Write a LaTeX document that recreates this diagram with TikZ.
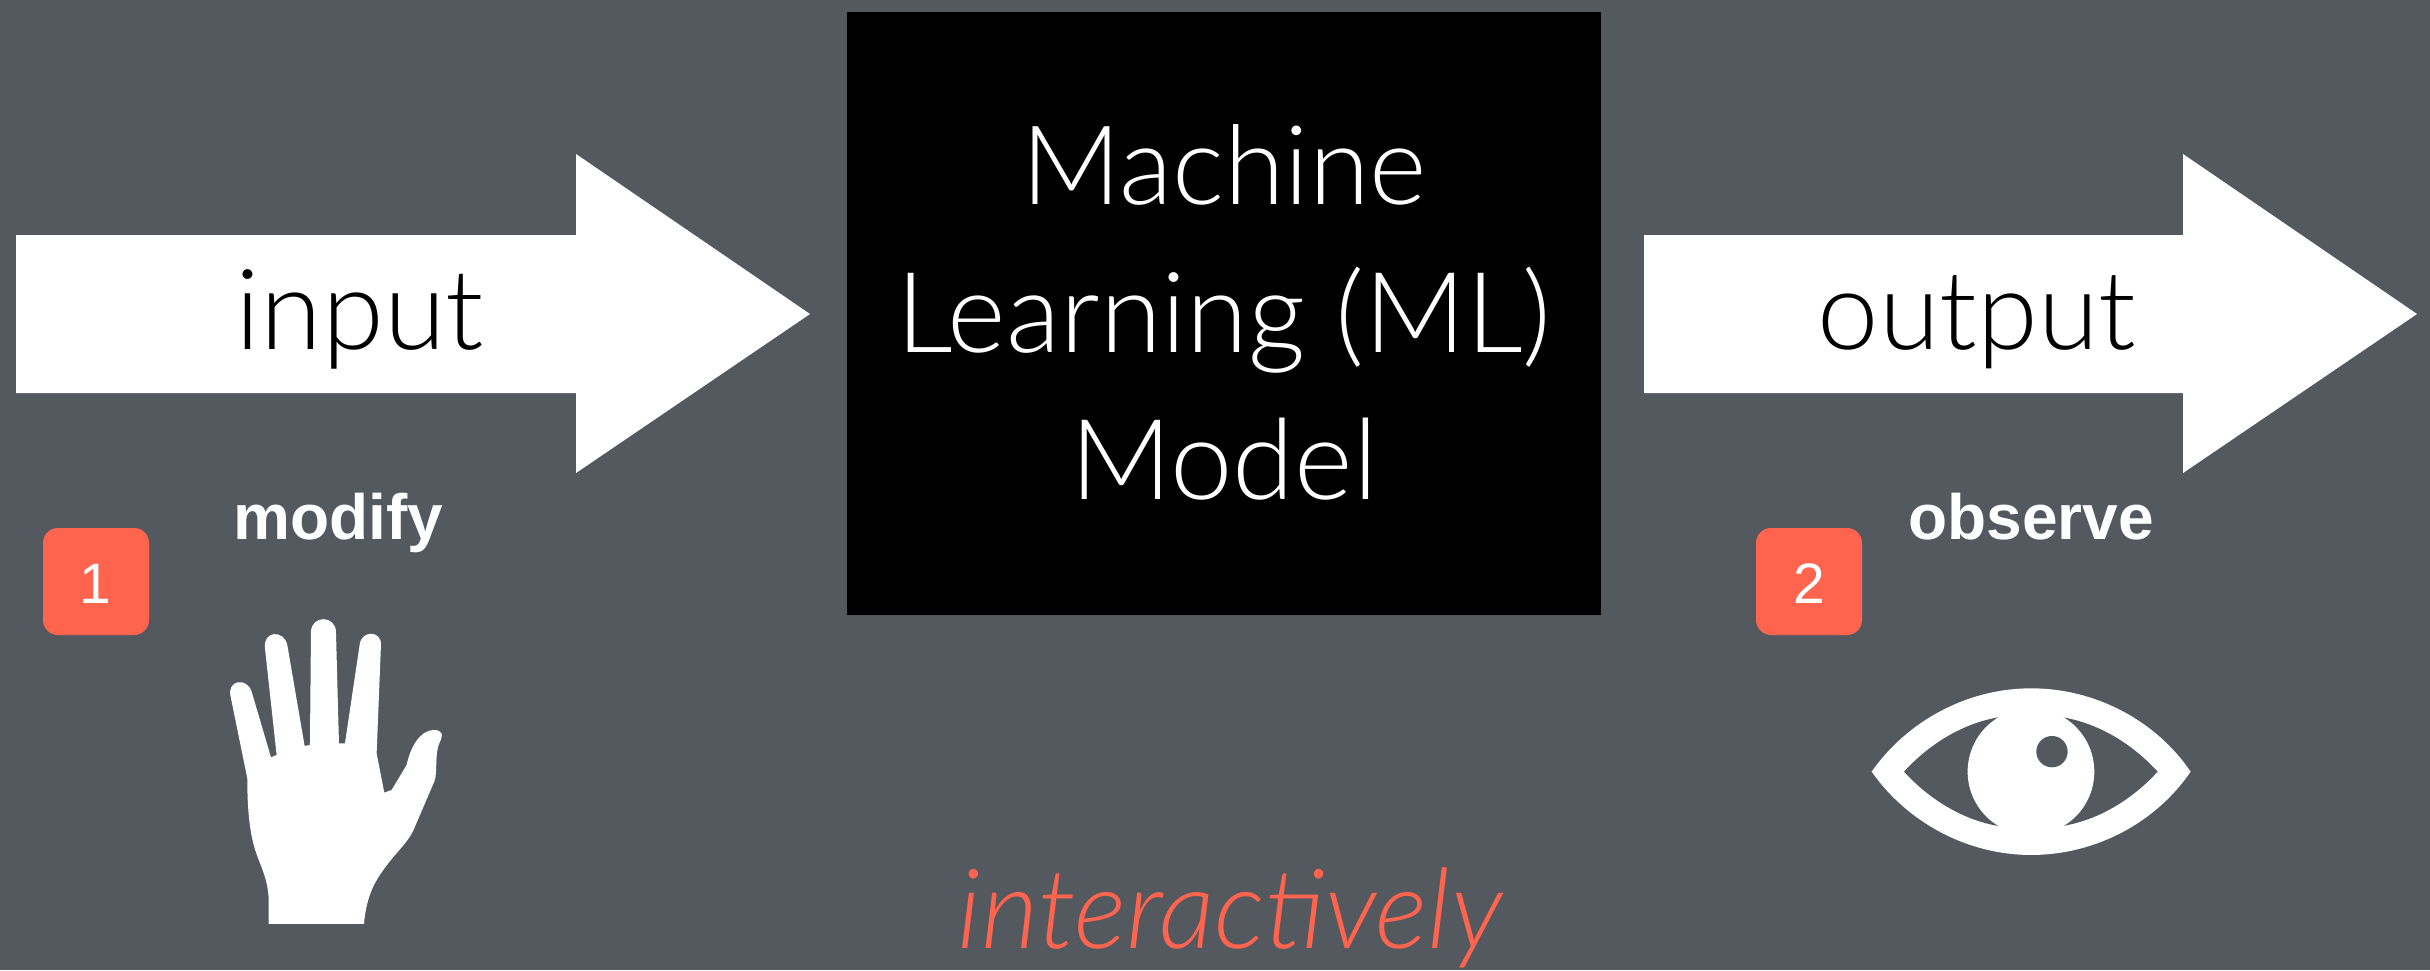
\documentclass[tikz,border=0pt]{standalone}
\usepackage{fontspec}
\setmainfont{Lato Light}
\newfontfamily\helv{Liberation Sans}
\definecolor{bgc}{HTML}{54585F}
\definecolor{coral}{HTML}{FF644E}
\tikzset{
  x=1pt,y=-1pt,
  bigtext/.style={anchor=base,inner sep=0pt,font=\fontsize{112}{112}\selectfont},
  boldtext/.style={anchor=base,inner sep=0pt,text=white,font=\helv\bfseries\fontsize{64}{64}\selectfont},
  numtext/.style={anchor=base,inner sep=0pt,text=white,font=\helv\fontsize{57}{57}\selectfont},
  badge/.style={fill=coral,rounded corners=15pt},
  bigarrow/.style={fill=white},
}
\begin{document}
\begin{tikzpicture}
\fill[bgc] (0,0) rectangle (2430,970);
\useasboundingbox (0,0) rectangle (2430,970);
% arrows
\fill[bigarrow] (16,235) -- (576,235) -- (576,154) -- (810,314) -- (576,473) -- (576,393) -- (16,393) -- cycle;
\fill[bigarrow] (1644,235) -- (2183,235) -- (2183,154) -- (2417,314) -- (2183,473) -- (2183,393) -- (1644,393) -- cycle;
% model box
\fill[black] (847,12) rectangle (1601,615);
\node[bigtext,text=white,font=\fontsize{110}{110}\selectfont] (l1) at (1224,204) {Machine};
\node[bigtext,text=white] (l2) at (1224,352) {Learning (ML)};
\node[bigtext,text=white] (l3) at (1224,499) {Model};
\node[bigtext,text=black] (input) at (360,349) {input};
\node[bigtext,text=black,font=\fontsize{110}{110}\selectfont] (output) at (1977,349) {output};
% labels
\node[boldtext] (modify) at (338,539) {modify};
\node[boldtext] (observe) at (2031,539) {observe};
\fill[badge] (43,528) rectangle (149,635);
\fill[badge] (1756,528) rectangle (1862,635);
\node[numtext] (one) at (95,603) {1};
\node[numtext] (two) at (1809,603) {2};
\node[bigtext,text=coral,font=\fontsize{111}{111}\selectfont\itshape] (inter) at (1230,948) {interactively};
% hand
\begin{scope}[x=0.3333pt,y=-0.3333pt,shift={(0pt,-480pt)}]
\fill[white] (806,1332) -- (1092,1332)
 .. controls (1100,1240) and (1130,1195) .. (1165,1150)
 .. controls (1200,1105) and (1230,1080) .. (1245,1040)
 -- (1305,900)
 .. controls (1312,870) and (1305,820) .. (1318,790)
 .. controls (1330,765) and (1330,750) .. (1300,750)
 .. controls (1260,752) and (1232,800) .. (1220,855)
 -- (1175,930) -- (1153,938) -- (1130,820) -- (1143,495)
 .. controls (1145,450) and (1083,450) .. (1079,495)
 -- (1035,790) -- (1017,790) -- (1008,455)
 .. controls (1006,405) and (935,405) .. (933,455)
 -- (930,795) -- (914,798) -- (862,495)
 .. controls (852,448) and (788,452) .. (795,505)
 -- (830,825) -- (813,832) -- (755,635)
 .. controls (740,590) and (680,600) .. (692,650)
 -- (742,895)
 .. controls (742,960) and (745,1030) .. (760,1090)
 .. controls (775,1150) and (805,1190) .. (806,1260)
 -- cycle;
\end{scope}
% eye
\begin{scope}[x=0.3333pt,y=-0.3333pt,shift={(1700pt,-480pt)}]
\fill[white] (515,875) .. controls (620,725) and (800,625) .. (993,625)
 .. controls (1190,625) and (1370,725) .. (1472,875)
 .. controls (1370,1025) and (1190,1125) .. (993,1125)
 .. controls (800,1125) and (620,1025) .. (515,875) -- cycle;
\fill[bgc] (612,875) .. controls (690,790) and (790,730) .. (895,712)
 -- (1088,712) .. controls (1195,730) and (1295,790) .. (1373,875)
 .. controls (1295,960) and (1195,1020) .. (1088,1038)
 -- (895,1038) .. controls (790,1020) and (690,960) .. (612,875) -- cycle;
\fill[white] (993,875) circle[radius=190];
\fill[white] (895,712) rectangle (1088,720);
\fill[white] (895,1030) rectangle (1088,1038);
\fill[bgc] (1056,815) circle[radius=47];
\end{scope}
\end{tikzpicture}
\end{document}
